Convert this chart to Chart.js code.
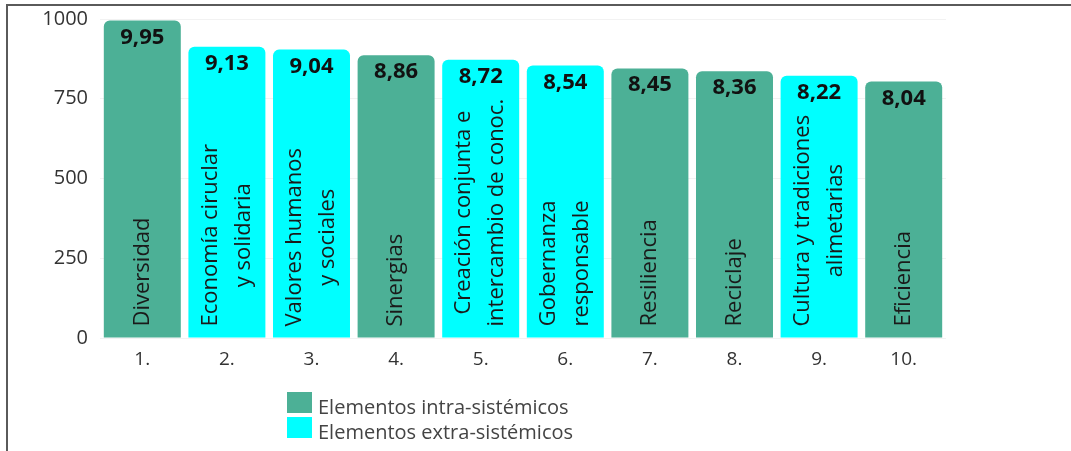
<!DOCTYPE html>
<html>
<head>
<meta charset="utf-8">
<script src="https://cdn.jsdelivr.net/npm/chart.js@4.4.1/dist/chart.umd.min.js"></script>
<style>
  html, body { margin: 0; padding: 0; background: #fff; }
  #wrap { position: relative; width: 1071px; height: 451px; overflow: hidden; }
  #frame { position: absolute; left: 6px; top: 4px; right: -2px; bottom: -2px;
           border-top: 2px solid #5a5a5a; border-left: 2px solid #5a5a5a; }
  canvas { position: absolute; left: 0; top: 0; }
  .leg { position: absolute; left: 287px; font-family: "Open Sans", sans-serif;
         font-size: 20px; color: #444; line-height: 24px; }
  .leg span { display: inline-block; width: 25px; height: 21px; vertical-align: middle;
              margin-right: 6px; position: relative; top: -6px; }
</style>
</head>
<body>
<div id="wrap">
  <div id="frame"></div>
  <canvas id="myChart" width="1071" height="451"></canvas>
  <div class="leg" style="top:395px"><span style="background:#4cb096"></span>Elementos intra-sistémicos</div>
  <div class="leg" style="top:420px"><span style="background:#00ffff"></span>Elementos extra-sistémicos</div>
</div>
<script>
// ranking positions shown under the bars
const ranks = ['1.', '2.', '3.', '4.', '5.', '6.', '7.', '8.', '9.', '10.'];
// names written inside the bars (one entry per line)
const names = [
  ['Diversidad'],
  ['Economía ciruclar', 'y solidaria'],
  ['Valores humanos', 'y sociales'],
  ['Sinergias'],
  ['Creación conjunta e', 'intercambio de conoc.'],
  ['Gobernanza', 'responsable'],
  ['Resiliencia'],
  ['Reciclaje'],
  ['Cultura y tradiciones', 'alimetarias'],
  ['Eficiencia']
];
const values = [995, 913, 904, 886, 872, 854, 845, 836, 822, 804];
const groups = ['intra', 'extra', 'extra', 'intra', 'extra', 'extra', 'intra', 'intra', 'extra', 'intra'];

const colors = { intra: '#4cb096', extra: '#00ffff' };

const barText = {
  id: 'barText',
  afterDatasetsDraw(chart) {
    const ctx = chart.ctx;
    const meta = chart.getDatasetMeta(0);
    meta.data.forEach((bar, i) => {
      // score label at top of bar
      ctx.save();
      ctx.fillStyle = '#111';
      ctx.font = 'bold 22px "Open Sans"';
      ctx.textAlign = 'center';
      ctx.textBaseline = 'alphabetic';
      ctx.fillText((values[i] / 100).toFixed(2).replace('.', ','), bar.x, bar.y + 23);
      ctx.restore();

      // rotated name
      const lines = names[i];
      ctx.save();
      ctx.font = '22px "Open Sans"';
      ctx.fillStyle = '#1a1a1a';
      let maxW = 0;
      lines.forEach(l => { maxW = Math.max(maxW, ctx.measureText(l).width); });
      const lh = 33;
      const startY = bar.base - 11;
      ctx.translate(bar.x, startY);
      ctx.rotate(-Math.PI / 2);
      ctx.textAlign = 'center';
      ctx.textBaseline = 'middle';
      const off = -(lines.length - 1) * lh / 2;
      lines.forEach((l, k) => {
        ctx.fillText(l, maxW / 2, off + k * lh);
      });
      ctx.restore();
    });
  }
};

const chart = new Chart('myChart', {
  type: 'bar',
  data: {
    labels: ranks,
    datasets: [{
      data: values,
      backgroundColor: groups.map(g => colors[g]),
      borderRadius: 6,
      borderSkipped: 'start',
      barPercentage: 0.91,
      categoryPercentage: 1
    }]
  },
  options: {
    responsive: false,
    animation: false,
    layout: { padding: { left: 0, top: 19, right: 125, bottom: 73 } },
    plugins: {
      legend: { display: false },
      tooltip: { enabled: false }
    },
    scales: {
      x: {
        grid: { display: false },
        border: { display: false },
        ticks: { color: '#333', font: { family: 'Open Sans', size: 19 }, padding: 2 },
        afterFit(s) { s.height = 40; }
      },
      y: {
        min: 0,
        max: 1000,
        grid: { color: '#f2f2f2', drawTicks: false },
        border: { display: false },
        ticks: {
          stepSize: 250, color: '#333', font: { family: 'Open Sans', size: 20 }, padding: 12,
          callback: v => String(v)
        },
        afterFit(s) { s.width = 100; s.paddingTop = 0; s.paddingBottom = 0; }
      }
    }
  },
  plugins: [barText]
});
</script>
</body>
</html>
